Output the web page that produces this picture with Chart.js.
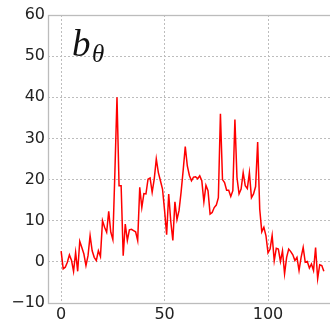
<!DOCTYPE html>
<html lang="en">
<head>
    <meta charset="UTF-8">
    <title>b_theta</title>
    <script src="https://cdn.jsdelivr.net/npm/chart.js@4.4.0/dist/chart.umd.min.js"></script>
    <style>
        html, body {
            margin: 0;
            padding: 0;
            background: #fff;
            overflow: hidden;
        }
        #wrap {
            width: 330px;
            height: 322px;
            overflow: hidden;
        }
        #box {
            width: 340px;
            height: 322px;
        }
    </style>
</head>
<body>
<div id="wrap"><div id="box"><canvas id="chart"></canvas></div></div>

<script>
    const values = [
        2.6, -1.7, -1.3, -0.1, 1.7, 0.4, -2.3, 2.3, -2.3, 5.0,
        3.5, 1.9, -0.9, 1.5, 6.4, 2.7, 1.1, 0.3, 2.7, 1.3,
        10.0, 8.4, 7.2, 12.3, 7.2, 5.4, 22.0, 40.0, 18.5, 18.5,
        1.5, 9.2, 5.2, 7.8, 7.9, 7.6, 7.3, 5.2, 18.1, 13.2,
        16.6, 16.5, 20.1, 20.4, 16.9, 20.1, 25.0, 21.7, 19.7, 17.7,
        12.5, 6.6, 16.5, 9.8, 5.2, 14.6, 10.3, 12.5, 17.0, 22.3,
        28.0, 23.3, 21.0, 19.7, 20.6, 20.7, 20.2, 20.9, 19.7, 14.6,
        18.6, 17.3, 11.6, 12.0, 13.2, 13.8, 15.6, 36.0, 20.0, 19.3,
        17.4, 17.4, 15.9, 17.3, 34.6, 20.5, 16.5, 17.7, 21.7, 18.5,
        17.8, 21.7, 15.6, 16.5, 18.3, 29.1, 12.8, 7.3, 8.4, 6.4,
        2.2, 3.1, 6.4, 0.3, 3.3, 3.1, 0.1, 2.7, -2.9, 1.1,
        3.1, 2.5, 1.7, 0.3, 1.1, -2.1, 1.1, 3.5, -0.1, 0.1,
        -1.5, -0.5, -2.1, 3.5, -4.1, -0.7, -0.9, -2.3
    ];
    const xTicks = [0, 50, 100];
    const yTicks = [-10, 0, 10, 20, 30, 40, 50, 60];

    const points = values.map((v, i) => ({ x: i, y: v }));

    // matplotlib style minus sign
    const fmt = (v) => (v < 0 ? '\u2212' + Math.abs(v) : '' + v);

    // frame around the plot area + the b_theta label
    const framePlugin = {
        id: 'frame',
        afterDraw(chart) {
            const { ctx, chartArea } = chart;
            ctx.save();
            ctx.strokeStyle = '#bcbcbc';
            ctx.lineWidth = 1.3;
            ctx.strokeRect(chartArea.left + 0.5, chartArea.top + 0.5,
                chartArea.right - chartArea.left, chartArea.bottom - chartArea.top);
            ctx.fillStyle = '#111';
            ctx.textBaseline = 'alphabetic';
            ctx.font = 'italic 37px "Liberation Serif"';
            ctx.fillText('b', 72, 56);
            ctx.font = 'italic 25px "Liberation Serif"';
            ctx.fillText('θ', 92, 62);
            ctx.restore();
        }
    };

    const tickFont = { family: '"DejaVu Sans"', size: 16 };

    new Chart(document.getElementById('chart'), {
        type: 'line',
        data: {
            datasets: [{
                data: points,
                borderColor: '#ff0000',
                borderWidth: 1.5,
                pointRadius: 0,
                tension: 0,
                fill: false
            }]
        },
        options: {
            responsive: true,
            maintainAspectRatio: false,
            animation: false,
            layout: { padding: { top: 15, right: 3, left: 0, bottom: 0 } },
            plugins: {
                legend: { display: false },
                tooltip: { enabled: false }
            },
            scales: {
                x: {
                    type: 'linear',
                    min: -6.35,
                    max: 133.35,
                    afterBuildTicks: (axis) => { axis.ticks = xTicks.map(v => ({ value: v })); },
                    afterFit: (axis) => { axis.height = 19; },
                    ticks: { color: '#222', font: tickFont, padding: 2, maxRotation: 0, callback: fmt },
                    grid: {
                        color: '#bdbdbd',
                        tickLength: 0,
                        lineWidth: 1
                    },
                    border: { display: false, dash: [2, 2] }
                },
                y: {
                    min: -10,
                    max: 60,
                    afterBuildTicks: (axis) => { axis.ticks = yTicks.map(v => ({ value: v })); },
                    afterFit: (axis) => { axis.width = 48; },
                    ticks: { color: '#222', font: tickFont, padding: 3, callback: fmt },
                    grid: {
                        color: '#bdbdbd',
                        tickLength: 0,
                        lineWidth: 1
                    },
                    border: { display: false, dash: [2, 2] }
                }
            }
        },
        plugins: [framePlugin]
    });
</script>
</body>
</html>
